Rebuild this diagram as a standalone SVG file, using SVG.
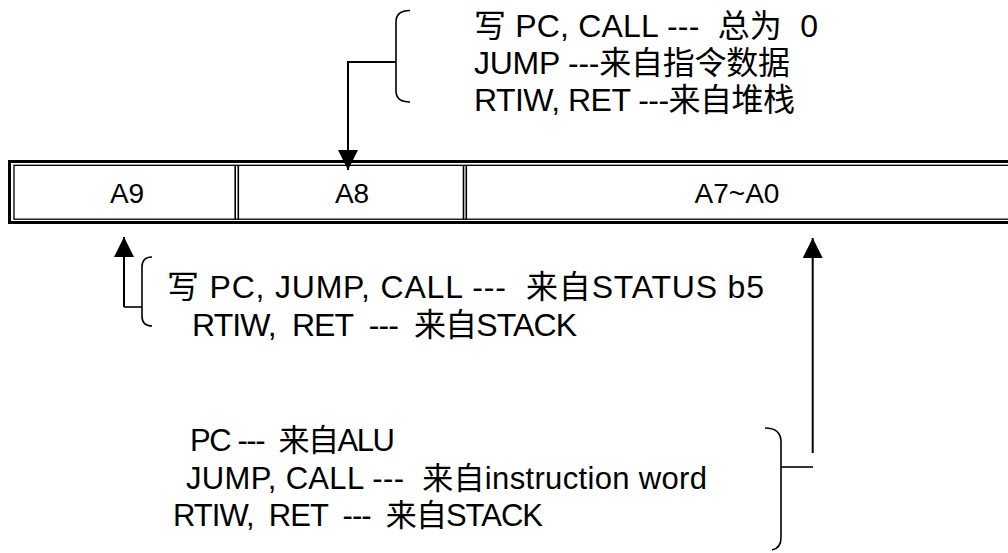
<svg xmlns="http://www.w3.org/2000/svg" width="1008" height="553" viewBox="0 0 1008 553">
<defs>
<marker id="ah" viewBox="0 0 20 20" refX="20" refY="10" markerWidth="20" markerHeight="20" markerUnits="userSpaceOnUse" orient="auto">
<path d="M0,0 L20,10 L0,20 Z" fill="#000"/>
</marker>
</defs>
<style>
.t{font-family:"Liberation Sans","Noto Sans CJK SC",sans-serif;font-size:32px;fill:#000;white-space:pre}
.b{font-size:31px}
.c{font-family:"Liberation Sans",sans-serif;font-size:28px;fill:#000;text-anchor:middle}
.ln{stroke:#000;stroke-width:1.6;fill:none}
.ar{stroke:#000;stroke-width:2;fill:none;marker-end:url(#ah)}
.sep{stroke:#000;stroke-width:1.6}
</style>
<rect width="1008" height="553" fill="#fff"/>
<g id="register">
<rect x="9.5" y="161.5" width="1020" height="61" fill="none" stroke="#000" stroke-width="3"/>
<rect x="14" y="165.3" width="1010" height="53.9" fill="none" stroke="#000" stroke-width="1.3"/>
<line class="sep" x1="235.2" y1="165.3" x2="235.2" y2="219.2"/>
<line class="sep" x1="238.3" y1="165.3" x2="238.3" y2="219.2"/>
<line class="sep" x1="463.5" y1="165.3" x2="463.5" y2="219.2"/>
<line class="sep" x1="466.3" y1="165.3" x2="466.3" y2="219.2"/>
</g>
<g id="cell-a9"><text class="c" x="127" y="203">A9</text></g>
<g id="cell-a8"><text class="c" x="352" y="203">A8</text></g>
<g id="cell-a7a0"><text class="c" x="737" y="203">A7~A0</text></g>
<g id="note-a8">
<text class="t" x="474" y="37" textLength="344" lengthAdjust="spacing">写 PC, CALL ---  总为  0</text>
<text class="t" x="474" y="74" textLength="316" lengthAdjust="spacing">JUMP ---来自指令数据</text>
<text class="t" x="474" y="111" textLength="321" lengthAdjust="spacing">RTIW, RET ---来自堆栈</text>
</g>
<g id="note-a9">
<text class="t" x="167" y="298" textLength="597" lengthAdjust="spacing">写 PC, JUMP, CALL ---  来自STATUS b5</text>
<text class="t" x="192" y="336" textLength="385" lengthAdjust="spacing">RTIW,  RET  ---  来自STACK</text>
</g>
<g id="note-a7a0">
<text class="t b" x="190" y="451" textLength="205" lengthAdjust="spacing">PC ---  来自ALU</text>
<text class="t b" x="186" y="489" textLength="521" lengthAdjust="spacing">JUMP, CALL ---  来自instruction word</text>
<text class="t b" x="173" y="526" textLength="370" lengthAdjust="spacing">RTIW,  RET  ---  来自STACK</text>
</g>
<g id="connectors">
<path class="ln" d="M410,10.5 Q396,10.5 396,22 L396,91 Q396,102 410,102"/>
<path class="ar" d="M396,62 L348,62 L348,170"/>
<path class="ln" d="M152,257 Q142,257 142,267 L142,316 Q142,326 152,326"/>
<path class="ln" d="M142,307 L124,307"/>
<path class="ar" d="M124,307 L124,237"/>
<path class="ln" d="M765,428 Q781,428 781,442 L781,538 Q781,548 772,550"/>
<path class="ln" d="M781,467 L813,467"/>
<path class="ar" d="M812.7,453 L812.7,238"/>
</g>
</svg>
